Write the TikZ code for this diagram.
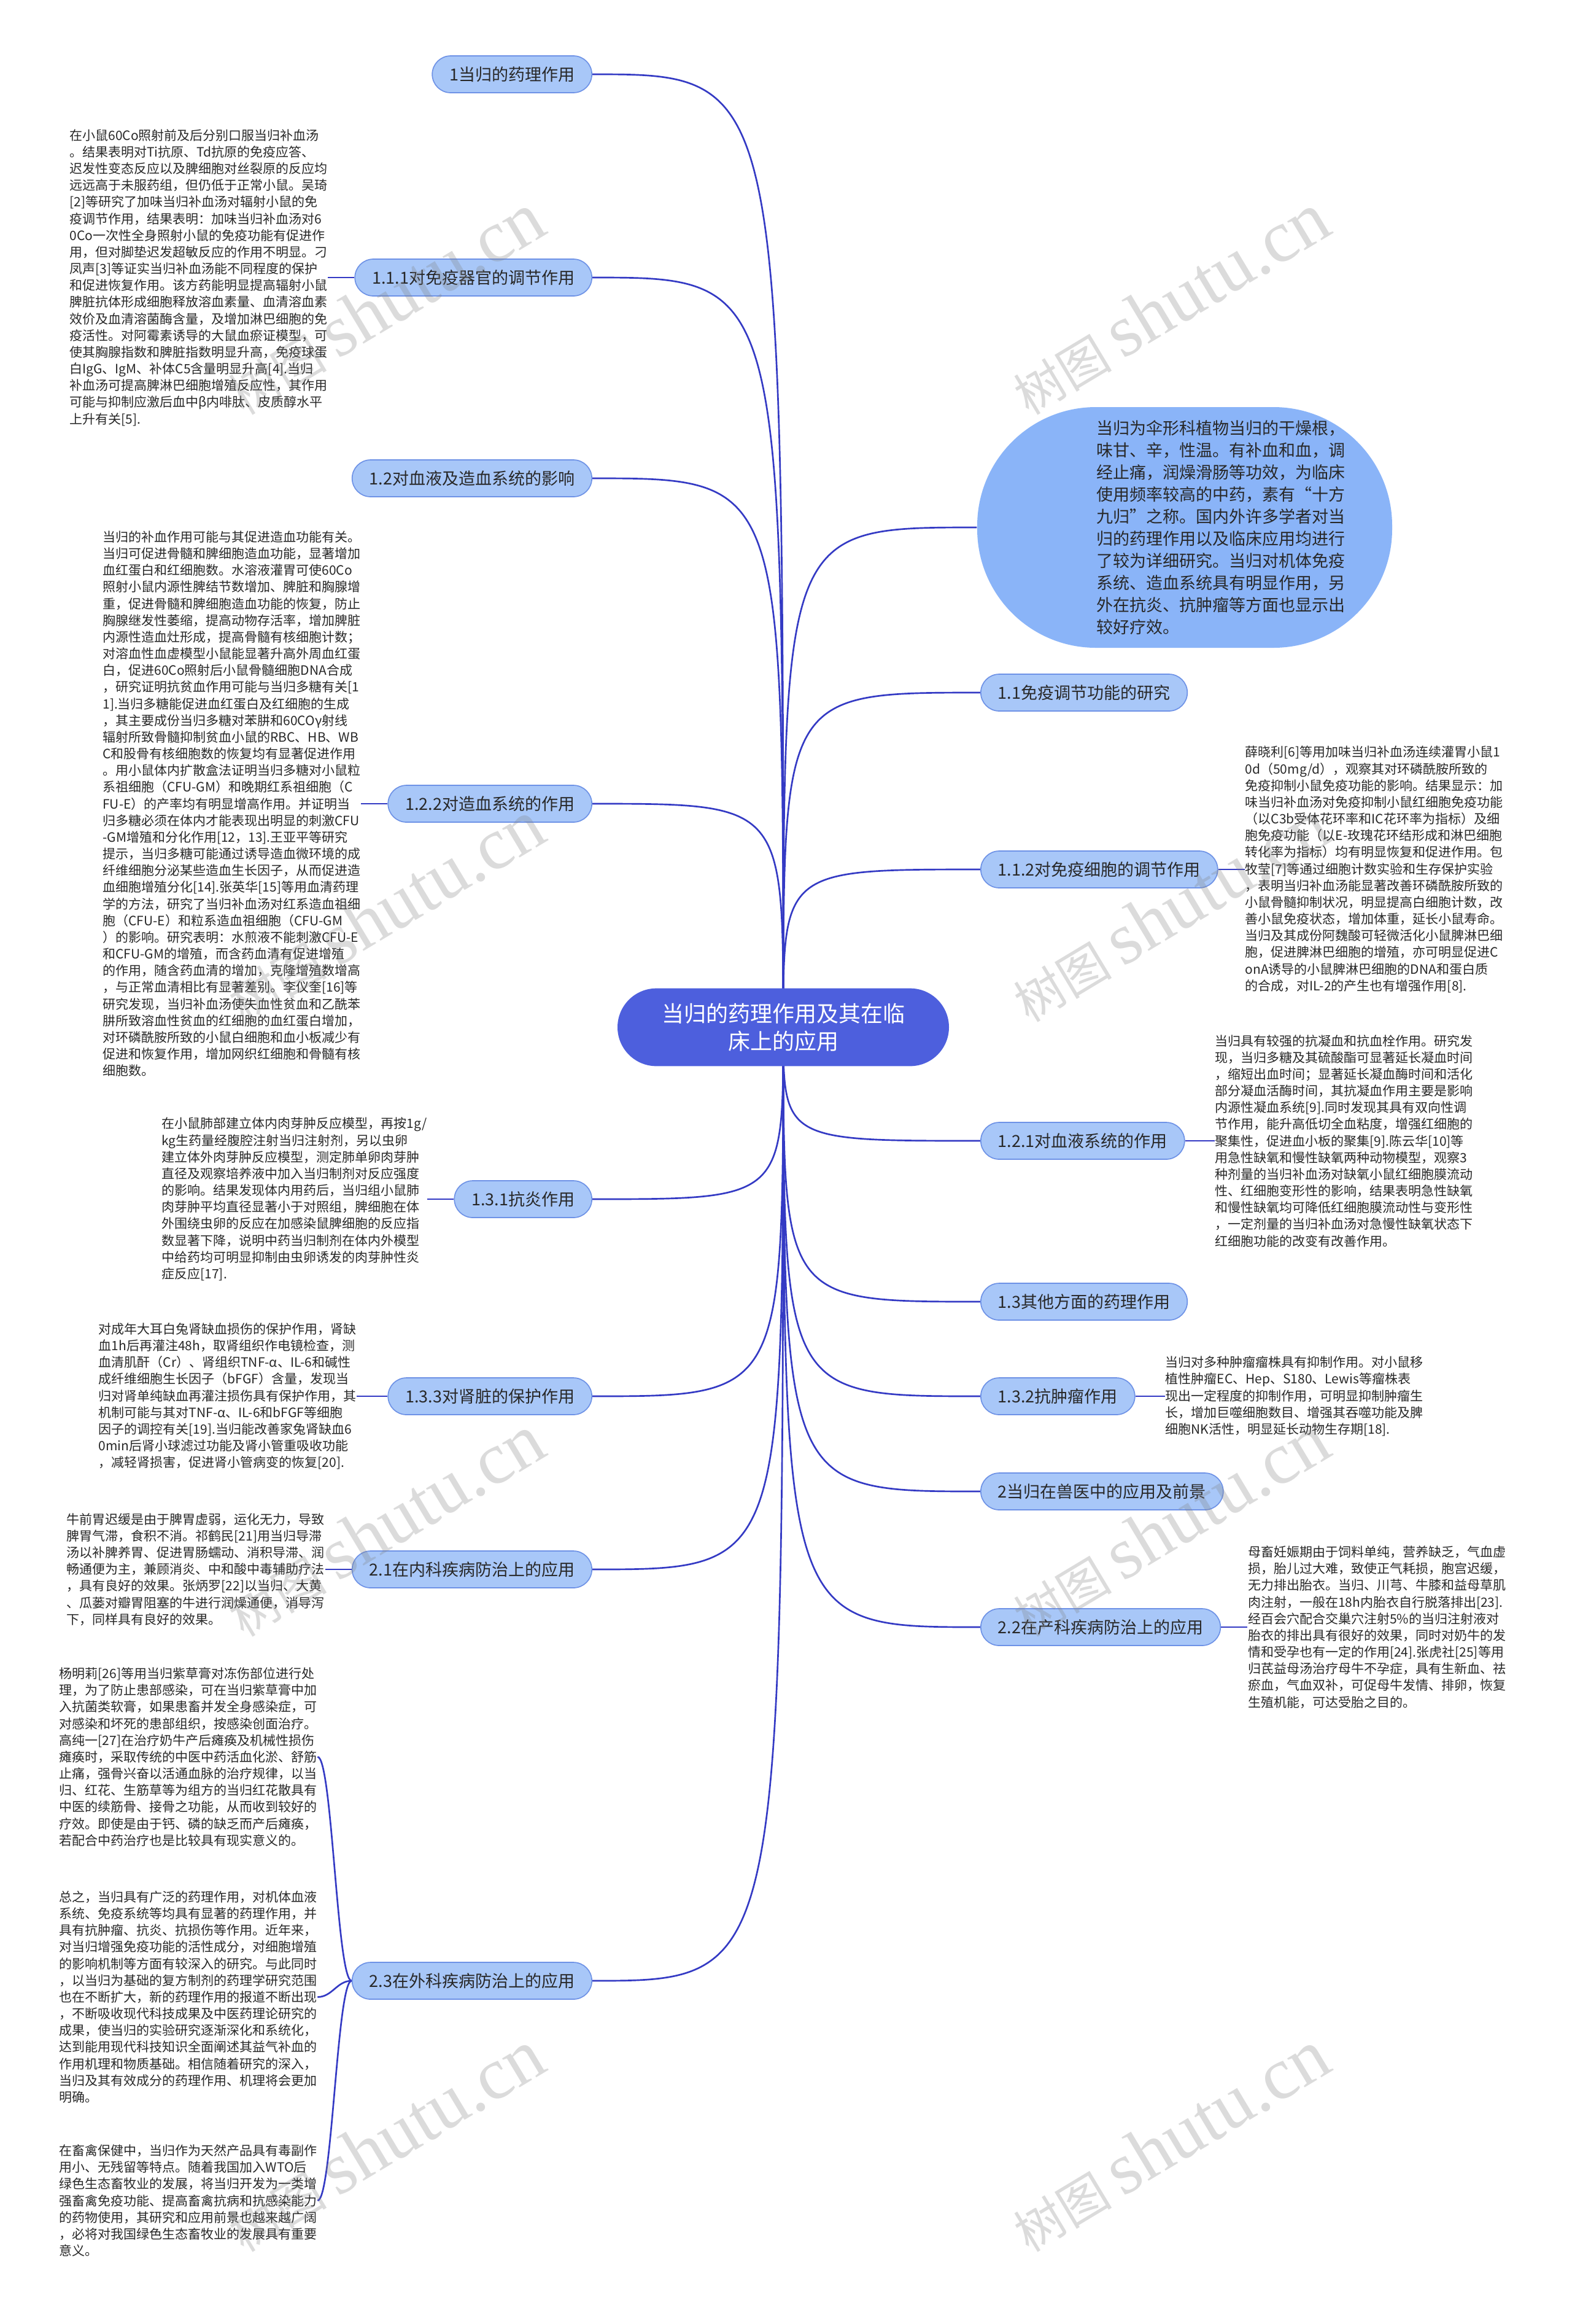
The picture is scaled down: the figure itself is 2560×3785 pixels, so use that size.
\documentclass[tikz,border=0pt]{standalone}
\usepackage{fontspec}
\setmainfont{Noto Sans CJK SC}
\newfontfamily\wmlatin{Liberation Serif}
\usetikzlibrary{positioning, backgrounds}
\definecolor{linkblue}{RGB}{52,58,196}
\definecolor{rootblue}{RGB}{77,95,221}
\definecolor{pillfill}{RGB}{168,199,248}
\definecolor{pillline}{RGB}{110,146,230}
\definecolor{introfill}{RGB}{138,180,248}
\definecolor{txtgray}{RGB}{40,40,40}

\tikzset{
  link/.style={draw=linkblue, line width=0.8pt},
  root/.style={fill=rootblue, text=white, rounded corners=19pt, minimum width=162pt,
    minimum height=38pt, align=center, font=\fontsize{10.8}{13.5}\selectfont},
  topic/.style={fill=pillfill, draw=pillline, line width=0.5pt, rounded corners=9pt,
    minimum height=18pt, inner xsep=8.4pt, inner ysep=0pt, text=txtgray,
    font=\fontsize{8.1}{9}\selectfont},
  note/.style={align=left, inner sep=0pt, text=txtgray, font=\fontsize{6.3}{8.15}\selectfont},
  introbox/.style={fill=introfill, rounded corners=58pt, minimum width=202.8pt, minimum height=117.6pt},
  introtext/.style={align=left, inner sep=0pt, text=txtgray, font=\fontsize{8.1}{10.8}\selectfont},
  wmark/.style={text=gray, opacity=0.28, rotate=31, inner sep=0pt}
}

\begin{document}
\begin{tikzpicture}[x=0.3pt, y=-0.3pt]
\useasboundingbox (0,0) rectangle (2560,3785);

% centre
\node[root] (root) at (1276,1673) {当归的药理作用及其在临\\床上的应用};

% left branches
\node[topic, anchor=east] (n1)   at (965,121)  {1当归的药理作用};
\node[topic, anchor=east] (n111) at (965,452)  {1.1.1对免疫器官的调节作用};
\node[topic, anchor=east] (n12)  at (965,779)  {1.2对血液及造血系统的影响};
\node[topic, anchor=east] (n122) at (965,1309) {1.2.2对造血系统的作用};
\node[topic, anchor=east] (n131) at (965,1953) {1.3.1抗炎作用};
\node[topic, anchor=east] (n133) at (965,2274) {1.3.3对肾脏的保护作用};
\node[topic, anchor=east] (n21)  at (965,2556) {2.1在内科疾病防治上的应用};
\node[topic, anchor=east] (n23)  at (965,3226) {2.3在外科疾病防治上的应用};

% right branches
\node[introbox] (intro) at (1930,859) {};
\node[introtext, anchor=west] (introtxt) at (1786,859) {当归为伞形科植物当归的干燥根，\\味甘、辛，性温。有补血和血，调\\经止痛，润燥滑肠等功效，为临床\\使用频率较高的中药，素有“十方\\九归”之称。国内外许多学者对当\\归的药理作用以及临床应用均进行\\了较为详细研究。当归对机体免疫\\系统、造血系统具有明显作用，另\\外在抗炎、抗肿瘤等方面也显示出\\较好疗效。};
\node[topic, anchor=west] (n11)  at (1597,1128) {1.1免疫调节功能的研究};
\node[topic, anchor=west] (n112) at (1597,1416) {1.1.2对免疫细胞的调节作用};
\node[topic, anchor=west] (n121) at (1597,1858) {1.2.1对血液系统的作用};
\node[topic, anchor=west] (n13)  at (1597,2120) {1.3其他方面的药理作用};
\node[topic, anchor=west] (n132) at (1597,2274) {1.3.2抗肿瘤作用};
\node[topic, anchor=west] (n2)   at (1597,2429) {2当归在兽医中的应用及前景};
\node[topic, anchor=west] (n22)  at (1597,2650) {2.2在产科疾病防治上的应用};

% notes
\node[note, left=13pt of n111] (b111) {在小鼠60Co照射前及后分别口服当归补血汤\\。结果表明对Ti抗原、Td抗原的免疫应答、\\迟发性变态反应以及脾细胞对丝裂原的反应均\\远远高于未服药组，但仍低于正常小鼠。吴琦\\{}[2]等研究了加味当归补血汤对辐射小鼠的免\\疫调节作用，结果表明：加味当归补血汤对6\\0Co一次性全身照射小鼠的免疫功能有促进作\\用，但对脚垫迟发超敏反应的作用不明显。刁\\凤声[3]等证实当归补血汤能不同程度的保护\\和促进恢复作用。该方药能明显提高辐射小鼠\\脾脏抗体形成细胞释放溶血素量、血清溶血素\\效价及血清溶菌酶含量，及增加淋巴细胞的免\\疫活性。对阿霉素诱导的大鼠血瘀证模型，可\\使其胸腺指数和脾脏指数明显升高，免疫球蛋\\白IgG、IgM、补体C5含量明显升高[4].当归\\补血汤可提高脾淋巴细胞增殖反应性，其作用\\可能与抑制应激后血中β内啡肽、皮质醇水平\\上升有关[5].};
\node[note, left=13pt of n122] (b122) {当归的补血作用可能与其促进造血功能有关。\\当归可促进骨髓和脾细胞造血功能，显著增加\\血红蛋白和红细胞数。水溶液灌胃可使60Co\\照射小鼠内源性脾结节数增加、脾脏和胸腺增\\重，促进骨髓和脾细胞造血功能的恢复，防止\\胸腺继发性萎缩，提高动物存活率，增加脾脏\\内源性造血灶形成，提高骨髓有核细胞计数；\\对溶血性血虚模型小鼠能显著升高外周血红蛋\\白，促进60Co照射后小鼠骨髓细胞DNA合成\\，研究证明抗贫血作用可能与当归多糖有关[1\\1].当归多糖能促进血红蛋白及红细胞的生成\\，其主要成份当归多糖对苯肼和60COγ射线\\辐射所致骨髓抑制贫血小鼠的RBC、HB、WB\\C和股骨有核细胞数的恢复均有显著促进作用\\。用小鼠体内扩散盒法证明当归多糖对小鼠粒\\系祖细胞（CFU-GM）和晚期红系祖细胞（C\\FU-E）的产率均有明显增高作用。并证明当\\归多糖必须在体内才能表现出明显的刺激CFU\\-GM增殖和分化作用[12，13].王亚平等研究\\提示，当归多糖可能通过诱导造血微环境的成\\纤维细胞分泌某些造血生长因子，从而促进造\\血细胞增殖分化[14].张英华[15]等用血清药理\\学的方法，研究了当归补血汤对红系造血祖细\\胞（CFU-E）和粒系造血祖细胞（CFU-GM\\）的影响。研究表明：水煎液不能刺激CFU-E\\和CFU-GM的增殖，而含药血清有促进增殖\\的作用，随含药血清的增加，克隆增殖数增高\\，与正常血清相比有显著差别。李仪奎[16]等\\研究发现，当归补血汤使失血性贫血和乙酰苯\\肼所致溶血性贫血的红细胞的血红蛋白增加，\\对环磷酰胺所致的小鼠白细胞和血小板减少有\\促进和恢复作用，增加网织红细胞和骨髓有核\\细胞数。};
\node[note, left=13pt of n131] (b131) {在小鼠肺部建立体内肉芽肿反应模型，再按1g/\\kg生药量经腹腔注射当归注射剂，另以虫卵\\建立体外肉芽肿反应模型，测定肺单卵肉芽肿\\直径及观察培养液中加入当归制剂对反应强度\\的影响。结果发现体内用药后，当归组小鼠肺\\肉芽肿平均直径显著小于对照组，脾细胞在体\\外围绕虫卵的反应在加感染鼠脾细胞的反应指\\数显著下降，说明中药当归制剂在体内外模型\\中给药均可明显抑制由虫卵诱发的肉芽肿性炎\\症反应[17].};
\node[note, left=15pt of n133] (b133) {对成年大耳白兔肾缺血损伤的保护作用，肾缺\\血1h后再灌注48h，取肾组织作电镜检查，测\\血清肌酐（Cr）、肾组织TNF-α、IL-6和碱性\\成纤维细胞生长因子（bFGF）含量，发现当\\归对肾单纯缺血再灌注损伤具有保护作用，其\\机制可能与其对TNF-α、IL-6和bFGF等细胞\\因子的调控有关[19].当归能改善家兔肾缺血6\\0min后肾小球滤过功能及肾小管重吸收功能\\，减轻肾损害，促进肾小管病变的恢复[20].};
\node[note, left=13pt of n21] (b21) {牛前胃迟缓是由于脾胃虚弱，运化无力，导致\\脾胃气滞，食积不消。祁鹤民[21]用当归导滞\\汤以补脾养胃、促进胃肠蠕动、消积导滞、润\\畅通便为主，兼顾消炎、中和酸中毒辅助疗法\\，具有良好的效果。张炳罗[22]以当归、大黄\\、瓜蒌对瓣胃阻塞的牛进行润燥通便，消导泻\\下，同样具有良好的效果。};
\node[note, anchor=north west] (b23a) at (96,2715) {杨明莉[26]等用当归紫草膏对冻伤部位进行处\\理，为了防止患部感染，可在当归紫草膏中加\\入抗菌类软膏，如果患畜并发全身感染症，可\\对感染和坏死的患部组织，按感染创面治疗。\\高纯一[27]在治疗奶牛产后瘫痪及机械性损伤\\瘫痪时，采取传统的中医中药活血化淤、舒筋\\止痛，强骨兴奋以活通血脉的治疗规律，以当\\归、红花、生筋草等为组方的当归红花散具有\\中医的续筋骨、接骨之功能，从而收到较好的\\疗效。即使是由于钙、磷的缺乏而产后瘫痪，\\若配合中药治疗也是比较具有现实意义的。};
\node[note, anchor=north west] (b23b) at (96,3079) {总之，当归具有广泛的药理作用，对机体血液\\系统、免疫系统等均具有显著的药理作用，并\\具有抗肿瘤、抗炎、抗损伤等作用。近年来，\\对当归增强免疫功能的活性成分，对细胞增殖\\的影响机制等方面有较深入的研究。与此同时\\，以当归为基础的复方制剂的药理学研究范围\\也在不断扩大，新的药理作用的报道不断出现\\，不断吸收现代科技成果及中医药理论研究的\\成果，使当归的实验研究逐渐深化和系统化，\\达到能用现代科技知识全面阐述其益气补血的\\作用机理和物质基础。相信随着研究的深入，\\当归及其有效成分的药理作用、机理将会更加\\明确。};
\node[note, anchor=north west] (b23c) at (96,3492) {在畜禽保健中，当归作为天然产品具有毒副作\\用小、无残留等特点。随着我国加入WTO后\\绿色生态畜牧业的发展，将当归开发为一类增\\强畜禽免疫功能、提高畜禽抗病和抗感染能力\\的药物使用，其研究和应用前景也越来越广阔\\，必将对我国绿色生态畜牧业的发展具有重要\\意义。};
\node[note, right=13pt of n112] (b112) {薛晓利[6]等用加味当归补血汤连续灌胃小鼠1\\0d（50mg/d），观察其对环磷酰胺所致的\\免疫抑制小鼠免疫功能的影响。结果显示：加\\味当归补血汤对免疫抑制小鼠红细胞免疫功能\\（以C3b受体花环率和IC花环率为指标）及细\\胞免疫功能（以E-玫瑰花环结形成和淋巴细胞\\转化率为指标）均有明显恢复和促进作用。包\\牧莹[7]等通过细胞计数实验和生存保护实验\\，表明当归补血汤能显著改善环磷酰胺所致的\\小鼠骨髓抑制状况，明显提高白细胞计数，改\\善小鼠免疫状态，增加体重，延长小鼠寿命。\\当归及其成份阿魏酸可轻微活化小鼠脾淋巴细\\胞，促进脾淋巴细胞的增殖，亦可明显促进C\\onA诱导的小鼠脾淋巴细胞的DNA和蛋白质\\的合成，对IL-2的产生也有增强作用[8].};
\node[note, right=14.5pt of n121] (b121) {当归具有较强的抗凝血和抗血栓作用。研究发\\现，当归多糖及其硫酸酯可显著延长凝血时间\\，缩短出血时间；显著延长凝血酶时间和活化\\部分凝血活酶时间，其抗凝血作用主要是影响\\内源性凝血系统[9].同时发现其具有双向性调\\节作用，能升高低切全血粘度，增强红细胞的\\聚集性，促进血小板的聚集[9].陈云华[10]等\\用急性缺氧和慢性缺氧两种动物模型，观察3\\种剂量的当归补血汤对缺氧小鼠红细胞膜流动\\性、红细胞变形性的影响，结果表明急性缺氧\\和慢性缺氧均可降低红细胞膜流动性与变形性\\，一定剂量的当归补血汤对急慢性缺氧状态下\\红细胞功能的改变有改善作用。};
\node[note, right=14.5pt of n132] (b132) {当归对多种肿瘤瘤株具有抑制作用。对小鼠移\\植性肿瘤EC、Hep、S180、Lewis等瘤株表\\现出一定程度的抑制作用，可明显抑制肿瘤生\\长，增加巨噬细胞数目、增强其吞噬功能及脾\\细胞NK活性，明显延长动物生存期[18].};
\node[note, right=13pt of n22] (b22) {母畜妊娠期由于饲料单纯，营养缺乏，气血虚\\损，胎儿过大难，致使正气耗损，胞宫迟缓，\\无力排出胎衣。当归、川芎、牛膝和益母草肌\\肉注射，一般在18h内胎衣自行脱落排出[23].\\经百会穴配合交巢穴注射5\%的当归注射液对\\胎衣的排出具有很好的效果，同时对奶牛的发\\情和受孕也有一定的作用[24].张虎社[25]等用\\归芪益母汤治疗母牛不孕症，具有生新血、祛\\瘀血，气血双补，可促母牛发情、排卵，恢复\\生殖机能，可达受胎之目的。};

% connectors
\begin{scope}[on background layer]
\fill[white] (0,0) rectangle (2560,3785);
\foreach \n in {n1,n111,n12,n122,n131,n133,n21,n23}
{
    \draw[link] (root.center) .. controls (root.center |- \n.east) and (root.center |- \n.east) .. (\n.east);
}
\foreach \n in {intro,n11,n112,n121,n13,n132,n2,n22}
{
    \draw[link] (root.center) .. controls (root.center |- \n.west) and (root.center |- \n.west) .. (\n.west);
}
\end{scope}
\draw[link] (n111.west) -- (b111.east);
\draw[link] (n122.west) -- (b122.east);
\draw[link] (n131.west) -- (b131.east);
\draw[link] (n133.west) -- (b133.east);
\draw[link] (n21.west) -- (b21.east);
\draw[link] (n112.east) -- (b112.west);
\draw[link] (n121.east) -- (b121.west);
\draw[link] (n132.east) -- (b132.west);
\draw[link] (n22.east) -- (b22.west);
\foreach \b in {b23a,b23b,b23c}
{
    \draw[link] (n23.west) .. controls +(-24,0) and +(24,0) .. (\b.east);
}

% watermarks
\foreach \wx in {627,1906}
{
    \foreach \wy in {495,1484,2485,3487}
    {
        \node[wmark] (wm-\wx-\wy) at (\wx,\wy) {\fontsize{24}{24}\selectfont 树图\ {\wmlatin\fontsize{36}{36}\selectfont shutu.cn}};
    }
}
\end{tikzpicture}
\end{document}
